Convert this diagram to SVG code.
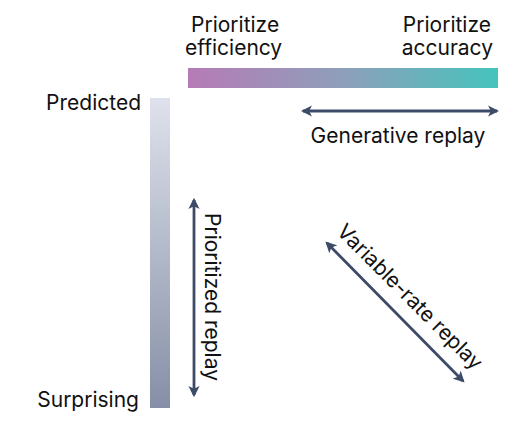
<svg xmlns="http://www.w3.org/2000/svg" width="525" height="427" viewBox="0 0 525 427">
  <style>
    text { font-family: Inter, "Liberation Sans", Arial, sans-serif; font-size: 21px; fill: #111111; }
    .arrow { stroke: #3d4b68; stroke-width: 2.8; fill: none; marker-start: url(#head); marker-end: url(#head); }
  </style>
  <defs>
    <linearGradient id="hgrad" x1="0" y1="0" x2="1" y2="0">
      <stop offset="0" stop-color="#b67bb6"/>
      <stop offset="0.5" stop-color="#8e9fba"/>
      <stop offset="1" stop-color="#45c3bc"/>
    </linearGradient>
    <linearGradient id="vgrad" x1="0" y1="0" x2="0" y2="1">
      <stop offset="0" stop-color="#dfe2ec"/>
      <stop offset="1" stop-color="#868fa7"/>
    </linearGradient>
    <marker id="head" viewBox="0 0 10 10" refX="8" refY="5" markerWidth="4" markerHeight="4" orient="auto-start-reverse" markerUnits="strokeWidth">
      <path d="M0,0 L10,5 L0,10 L2.5,5 Z" fill="#3d4b68"/>
    </marker>
  </defs>

  <g id="efficiency-accuracy-axis">
    <rect x="188" y="68" width="310" height="20" fill="url(#hgrad)"/>
    <text x="191" y="32">Prioritize</text>
    <text x="185" y="55">efficiency</text>
    <text x="491" y="32" text-anchor="end">Prioritize</text>
    <text x="493" y="55" text-anchor="end">accuracy</text>
  </g>

  <g id="predicted-surprising-axis">
    <rect x="150" y="98" width="20" height="310" fill="url(#vgrad)"/>
    <text x="141" y="110" text-anchor="end">Predicted</text>
    <text x="139" y="407" text-anchor="end">Surprising</text>
  </g>

  <g id="connectors">
    <line class="arrow" x1="303" y1="111" x2="497" y2="111"/>
    <line class="arrow" x1="194" y1="200" x2="194" y2="395"/>
    <line class="arrow" x1="327" y1="243" x2="463" y2="381"/>
  </g>

  <g id="generative-replay">
    <text x="398" y="143" text-anchor="middle">Generative replay</text>
  </g>
  <g id="prioritized-replay">
    <text transform="translate(205,297) rotate(90)" text-anchor="middle">Prioritized replay</text>
  </g>
  <g id="variable-rate-replay">
    <text transform="translate(405,302) rotate(45)" text-anchor="middle">Variable-rate replay</text>
  </g>
</svg>
